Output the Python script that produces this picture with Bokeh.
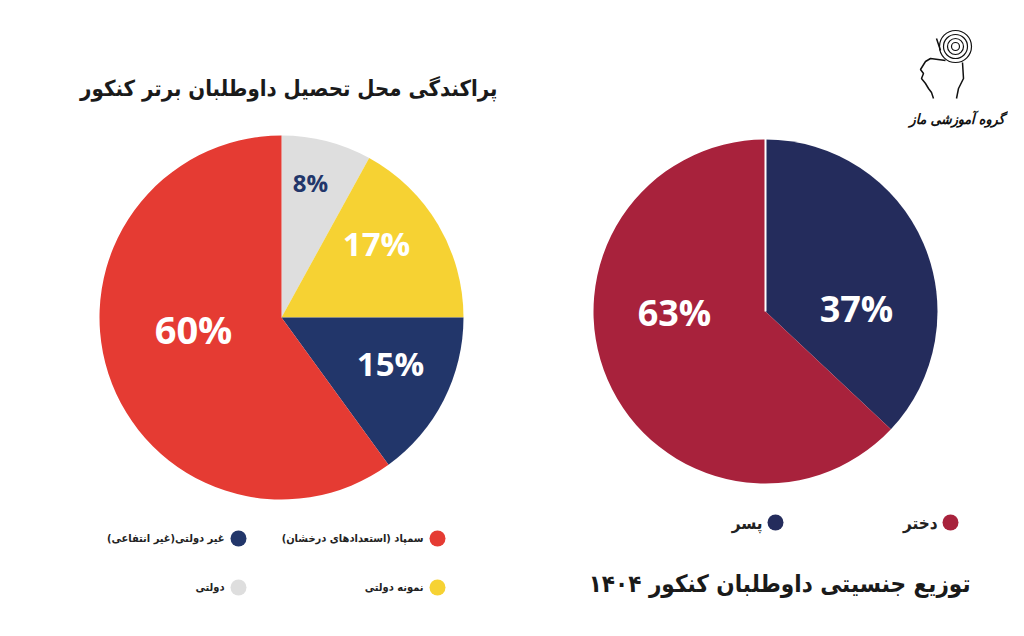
import numpy as np
from bokeh.plotting import figure
from bokeh.models import Range1d
from bokeh.core.properties import value
from bokeh.embed import file_html
from bokeh.resources import INLINE

# ---------------- data ----------------
school_labels = ["دولتی", "نمونه دولتی", "غیر دولتی(غیر انتفاعی)", "سمپاد (استعدادهای درخشان)"]
school_values = [8, 17, 15, 60]
school_colors = ["#DEDEDE", "#F6D233", "#22366A", "#E53B33"]
school_text_colors = ["#22366A", "white", "white", "white"]

gender_labels = ["پسر", "دختر"]
gender_values = [37, 63]
gender_colors = ["#242C5C", "#A8223C"]

title_left = "پراکندگی محل تحصیل داوطلبان برتر کنکور"
title_right = "توزیع جنسیتی داوطلبان کنکور ۱۴۰۴"
logo_text = "گروه آموزشی ماز"

W, H = 1008, 620
FA = "DejaVu Sans Condensed, DejaVu Sans"
NUM = "Open Sans"


def X(px):
    return px


def Y(py):
    return H - py


p = figure(width=W, height=H, output_backend="svg", toolbar_location=None,
           x_range=Range1d(0, W), y_range=Range1d(0, H), min_border=0)
p.axis.visible = False
p.grid.visible = False
p.outline_line_color = None
p.background_fill_color = "white"
p.border_fill_color = "white"


def pie(cx, cy, r, values, colors):
    total = float(sum(values))
    frac = np.array(values, dtype=float) / total
    cum = np.concatenate([[0.0], np.cumsum(frac)])
    start = np.pi / 2 - cum[:-1] * 2 * np.pi
    end = np.pi / 2 - cum[1:] * 2 * np.pi
    p.wedge(x=[cx] * len(values), y=[cy] * len(values), radius=r,
            start_angle=list(start), end_angle=list(end), direction="clock",
            fill_color=colors, line_color=None)


# ---- left pie ----
c1 = (X(281), Y(317))
r1 = 182
pie(c1[0], c1[1], r1, school_values, school_colors)
# label offsets (layout) relative to centre, in px
off1 = [(29, 135), (95, 74), (109, -46), (-88, -11)]
sizes1 = [24, 33, 33, 38]
for v, (dx, dy), s, tc in zip(school_values, off1, sizes1, school_text_colors):
    p.text(x=[c1[0] + dx], y=[c1[1] + dy], text=[f"{v}%"], text_align="center",
           text_baseline="middle", text_color=tc, text_font=value(NUM),
           text_font_style="bold", text_font_size=f"{s}px")

# ---- right pie ----
c2 = (X(765), Y(311))
r2 = 172
pie(c2[0], c2[1], r2, gender_values, gender_colors)
p.segment(x0=[c2[0]], y0=[c2[1]], x1=[c2[0]], y1=[c2[1] + r2 + 1],
          line_color="white", line_width=2)
off2 = [(91, 3), (-91, -1)]
for v, (dx, dy) in zip(gender_values, off2):
    p.text(x=[c2[0] + dx], y=[c2[1] + dy], text=[f"{v}%"], text_align="center",
           text_baseline="middle", text_color="white", text_font=value(NUM),
           text_font_style="bold", text_font_size="36px")

# ---- titles ----
p.text(x=[X(497)], y=[Y(88)], text=[title_left], text_align="right",
       text_baseline="middle", text_color="#1a1a1a", text_font=value(FA),
       text_font_style="bold", text_font_size="22px")
p.text(x=[X(970)], y=[Y(583)], text=[title_right], text_align="right",
       text_baseline="middle", text_color="#1a1a1a", text_font=value(FA),
       text_font_style="bold", text_font_size="24px")

# ---- left legend ----
leg1_pos = [(238, 587), (437, 587), (238, 538), (437, 538)]
for lab, col, (lx, ly) in zip(school_labels, school_colors, leg1_pos):
    p.scatter(x=[X(lx)], y=[Y(ly)], size=16, fill_color=col, line_color=None)
    p.text(x=[X(lx - 14)], y=[Y(ly)], text=[lab], text_align="right",
           text_baseline="middle", text_color="#222222", text_font=value(FA),
           text_font_style="bold", text_font_size="11px")

# ---- right legend ----
leg2_pos = [(775, 522), (950, 522)]
for lab, col, (lx, ly) in zip(gender_labels, gender_colors, leg2_pos):
    p.scatter(x=[X(lx)], y=[Y(ly)], size=16, fill_color=col, line_color=None)
    p.text(x=[X(lx - 13)], y=[Y(ly)], text=[lab], text_align="right",
           text_baseline="middle", text_color="#222222", text_font=value(FA),
           text_font_style="bold", text_font_size="17px")

# ---- logo (simple line sketch + text) ----
lc = "#111111"
for rr in [4, 8, 12, 16]:
    p.circle(x=[X(955)], y=[Y(46)], radius=rr, fill_color=None,
             line_color=lc, line_width=1.2)
head_x = [945, 930, 925, 920, 923, 921, 925, 928, 931, 933]
head_y = [60, 58, 61, 69, 73, 78, 83, 88, 92, 98]
p.line(x=[X(v) for v in head_x], y=[Y(v) for v in head_y], line_color=lc, line_width=1.5)
back_x = [962, 963, 958, 956]
back_y = [62, 78, 88, 98]
p.line(x=[X(v) for v in back_x], y=[Y(v) for v in back_y], line_color=lc, line_width=1.5)
p.line(x=[X(936), X(940)], y=[Y(38), Y(50)], line_color=lc, line_width=1.5)

p.text(x=[X(1004)], y=[Y(118)], text=[logo_text], text_align="right",
       text_baseline="middle", text_color="#111111", text_font=value(FA),
       text_font_style="bold italic", text_font_size="14px")

open("out.html", "w").write(file_html(p, INLINE))
